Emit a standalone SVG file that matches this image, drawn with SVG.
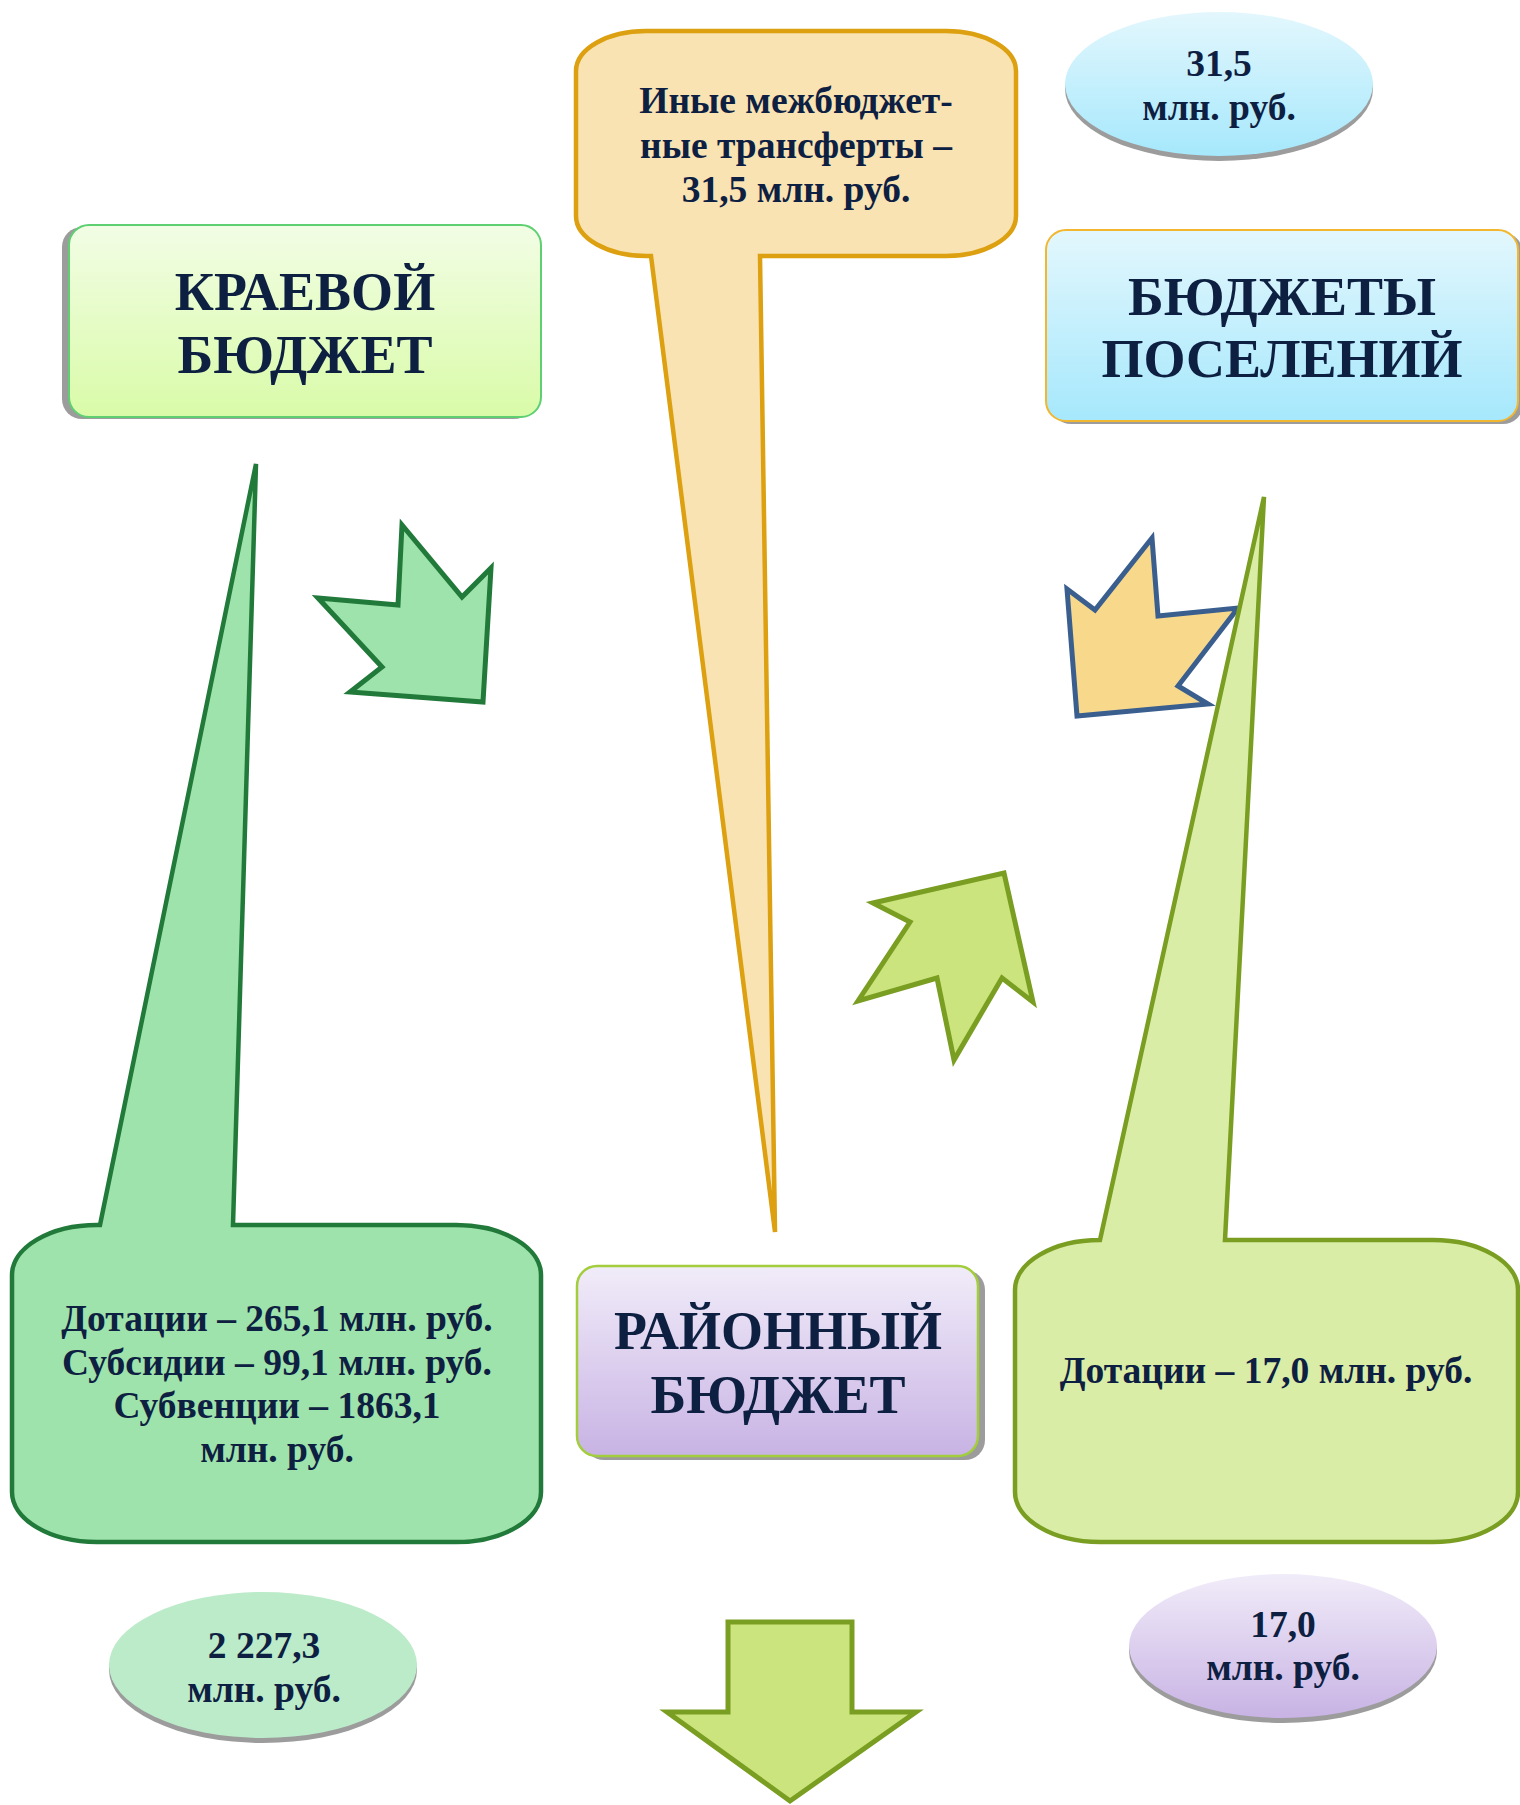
<svg xmlns="http://www.w3.org/2000/svg" width="1520" height="1805" viewBox="0 0 1520 1805">
<style>
text{font-family:"Liberation Serif","Times New Roman",serif;font-weight:bold;fill:#0e2042;text-anchor:middle}
.big{font-size:54px}
.mid{font-size:37.5px}
.shadow{fill:#9c9c9c}
.arrowG{fill:#9ee3ab;stroke:#217a3a;stroke-width:5;stroke-linejoin:miter}
.arrowO{fill:#f8d98c;stroke:#3a5f8f;stroke-width:5;stroke-linejoin:miter}
.arrowL{fill:#cbe47e;stroke:#7a9e22;stroke-width:5;stroke-linejoin:miter}
</style>
<defs>
<linearGradient id="gKr" x1="0" y1="0" x2="0" y2="1"><stop offset="0" stop-color="#f2fde5"/><stop offset="1" stop-color="#d9fba8"/></linearGradient>
<linearGradient id="gCy" x1="0" y1="0" x2="0" y2="1"><stop offset="0" stop-color="#e3f7fd"/><stop offset="1" stop-color="#a6e8fc"/></linearGradient>
<linearGradient id="gLav" x1="0" y1="0" x2="0" y2="1"><stop offset="0" stop-color="#f1ecf9"/><stop offset="1" stop-color="#c8b3e4"/></linearGradient>
</defs>

<g id="connectors">
<polygon class="arrowG" points="318,598 398,605 402,525 462,597 491,568 483,702 350,692 382,667"/>
<polygon class="arrowO" points="1067,589 1095,610 1152,538 1158,616 1238,608 1178,686 1208,704 1077,716"/>
<polygon class="arrowL" points="873,903 910,922 858,1001 937,978 954,1060 1002,978 1033,1002 1004,873"/>
<polygon class="arrowL" points="728,1622 852,1622 852,1712 916,1712 790,1801 667,1712 728,1712"/>
</g>

<g id="kraevoy">
<rect class="shadow" x="62" y="227" width="472" height="192" rx="20"/>
<rect x="69" y="225" width="472" height="192" rx="20" fill="url(#gKr)" stroke="#5ed072" stroke-width="2"/>
<text class="big" x="305" y="310">КРАЕВОЙ</text>
<text class="big" x="305" y="373">БЮДЖЕТ</text>
</g>

<g id="inye">
<path d="M646,31 H946 A70 40 0 0 1 1016 71 V216 A70 40 0 0 1 946 256 H760 L775,1232 L651,256 H646 A70 40 0 0 1 576 216 V71 A70 40 0 0 1 646 31 Z" fill="#f9e3b2" stroke="#dca010" stroke-width="4.5"/>
<text class="mid" x="796" y="113">Иные межбюджет-</text>
<text class="mid" x="796" y="158">ные трансферты –</text>
<text class="mid" x="796" y="202">31,5 млн. руб.</text>
</g>

<g id="oval315">
<ellipse class="shadow" cx="1219" cy="89" rx="154" ry="72"/>
<ellipse cx="1219" cy="84" rx="154" ry="72" fill="url(#gCy)"/>
<text class="mid" x="1219" y="76">31,5</text>
<text class="mid" x="1219" y="120">млн. руб.</text>
</g>

<g id="poseleniy">
<rect class="shadow" x="1051" y="233" width="472" height="191" rx="20"/>
<rect x="1046" y="230" width="472" height="191" rx="20" fill="url(#gCy)" stroke="#f2b72f" stroke-width="2"/>
<text class="big" x="1282" y="315">БЮДЖЕТЫ</text>
<text class="big" x="1282" y="377">ПОСЕЛЕНИЙ</text>
</g>

<g id="kraevoyTransfers">
<path d="M97,1225 H100 L256,464 L233,1225 H456 A85 50 0 0 1 541 1275 V1492 A85 50 0 0 1 456 1542 H97 A85 50 0 0 1 12 1492 V1275 A85 50 0 0 1 97 1225 Z" fill="#9ee3ab" stroke="#217a3a" stroke-width="4.5"/>
<text class="mid" x="277" y="1331">Дотации – 265,1 млн. руб.</text>
<text class="mid" x="277" y="1375">Субсидии – 99,1 млн. руб.</text>
<text class="mid" x="277" y="1418">Субвенции – 1863,1</text>
<text class="mid" x="277" y="1462">млн. руб.</text>
</g>

<g id="rayonny">
<rect class="shadow" x="584" y="1270" width="401" height="190" rx="20"/>
<rect x="577" y="1266" width="401" height="190" rx="20" fill="url(#gLav)" stroke="#a2cd3c" stroke-width="2.5"/>
<text class="big" x="778" y="1349">РАЙОННЫЙ</text>
<text class="big" x="778" y="1413">БЮДЖЕТ</text>
</g>

<g id="poselTransfers">
<path d="M1100,1240 L1264,497 L1225,1240 H1433 A85 50 0 0 1 1518 1290 V1492 A85 50 0 0 1 1433 1542 H1100 A85 50 0 0 1 1015 1492 V1290 A85 50 0 0 1 1100 1240 Z" fill="#daeda6" stroke="#7a9e22" stroke-width="4.5"/>
<text class="mid" x="1266" y="1383">Дотации – 17,0 млн. руб.</text>
</g>

<g id="oval2227">
<ellipse class="shadow" cx="263" cy="1670" rx="154" ry="73"/>
<ellipse cx="263" cy="1665" rx="154" ry="73" fill="#bcebc9"/>
<text class="mid" x="264" y="1658">2 227,3</text>
<text class="mid" x="264" y="1702">млн. руб.</text>
</g>

<g id="oval170">
<ellipse class="shadow" cx="1283" cy="1651" rx="154" ry="72"/>
<ellipse cx="1283" cy="1646" rx="154" ry="72" fill="url(#gLav)"/>
<text class="mid" x="1283" y="1637">17,0</text>
<text class="mid" x="1283" y="1680">млн. руб.</text>
</g>
</svg>
